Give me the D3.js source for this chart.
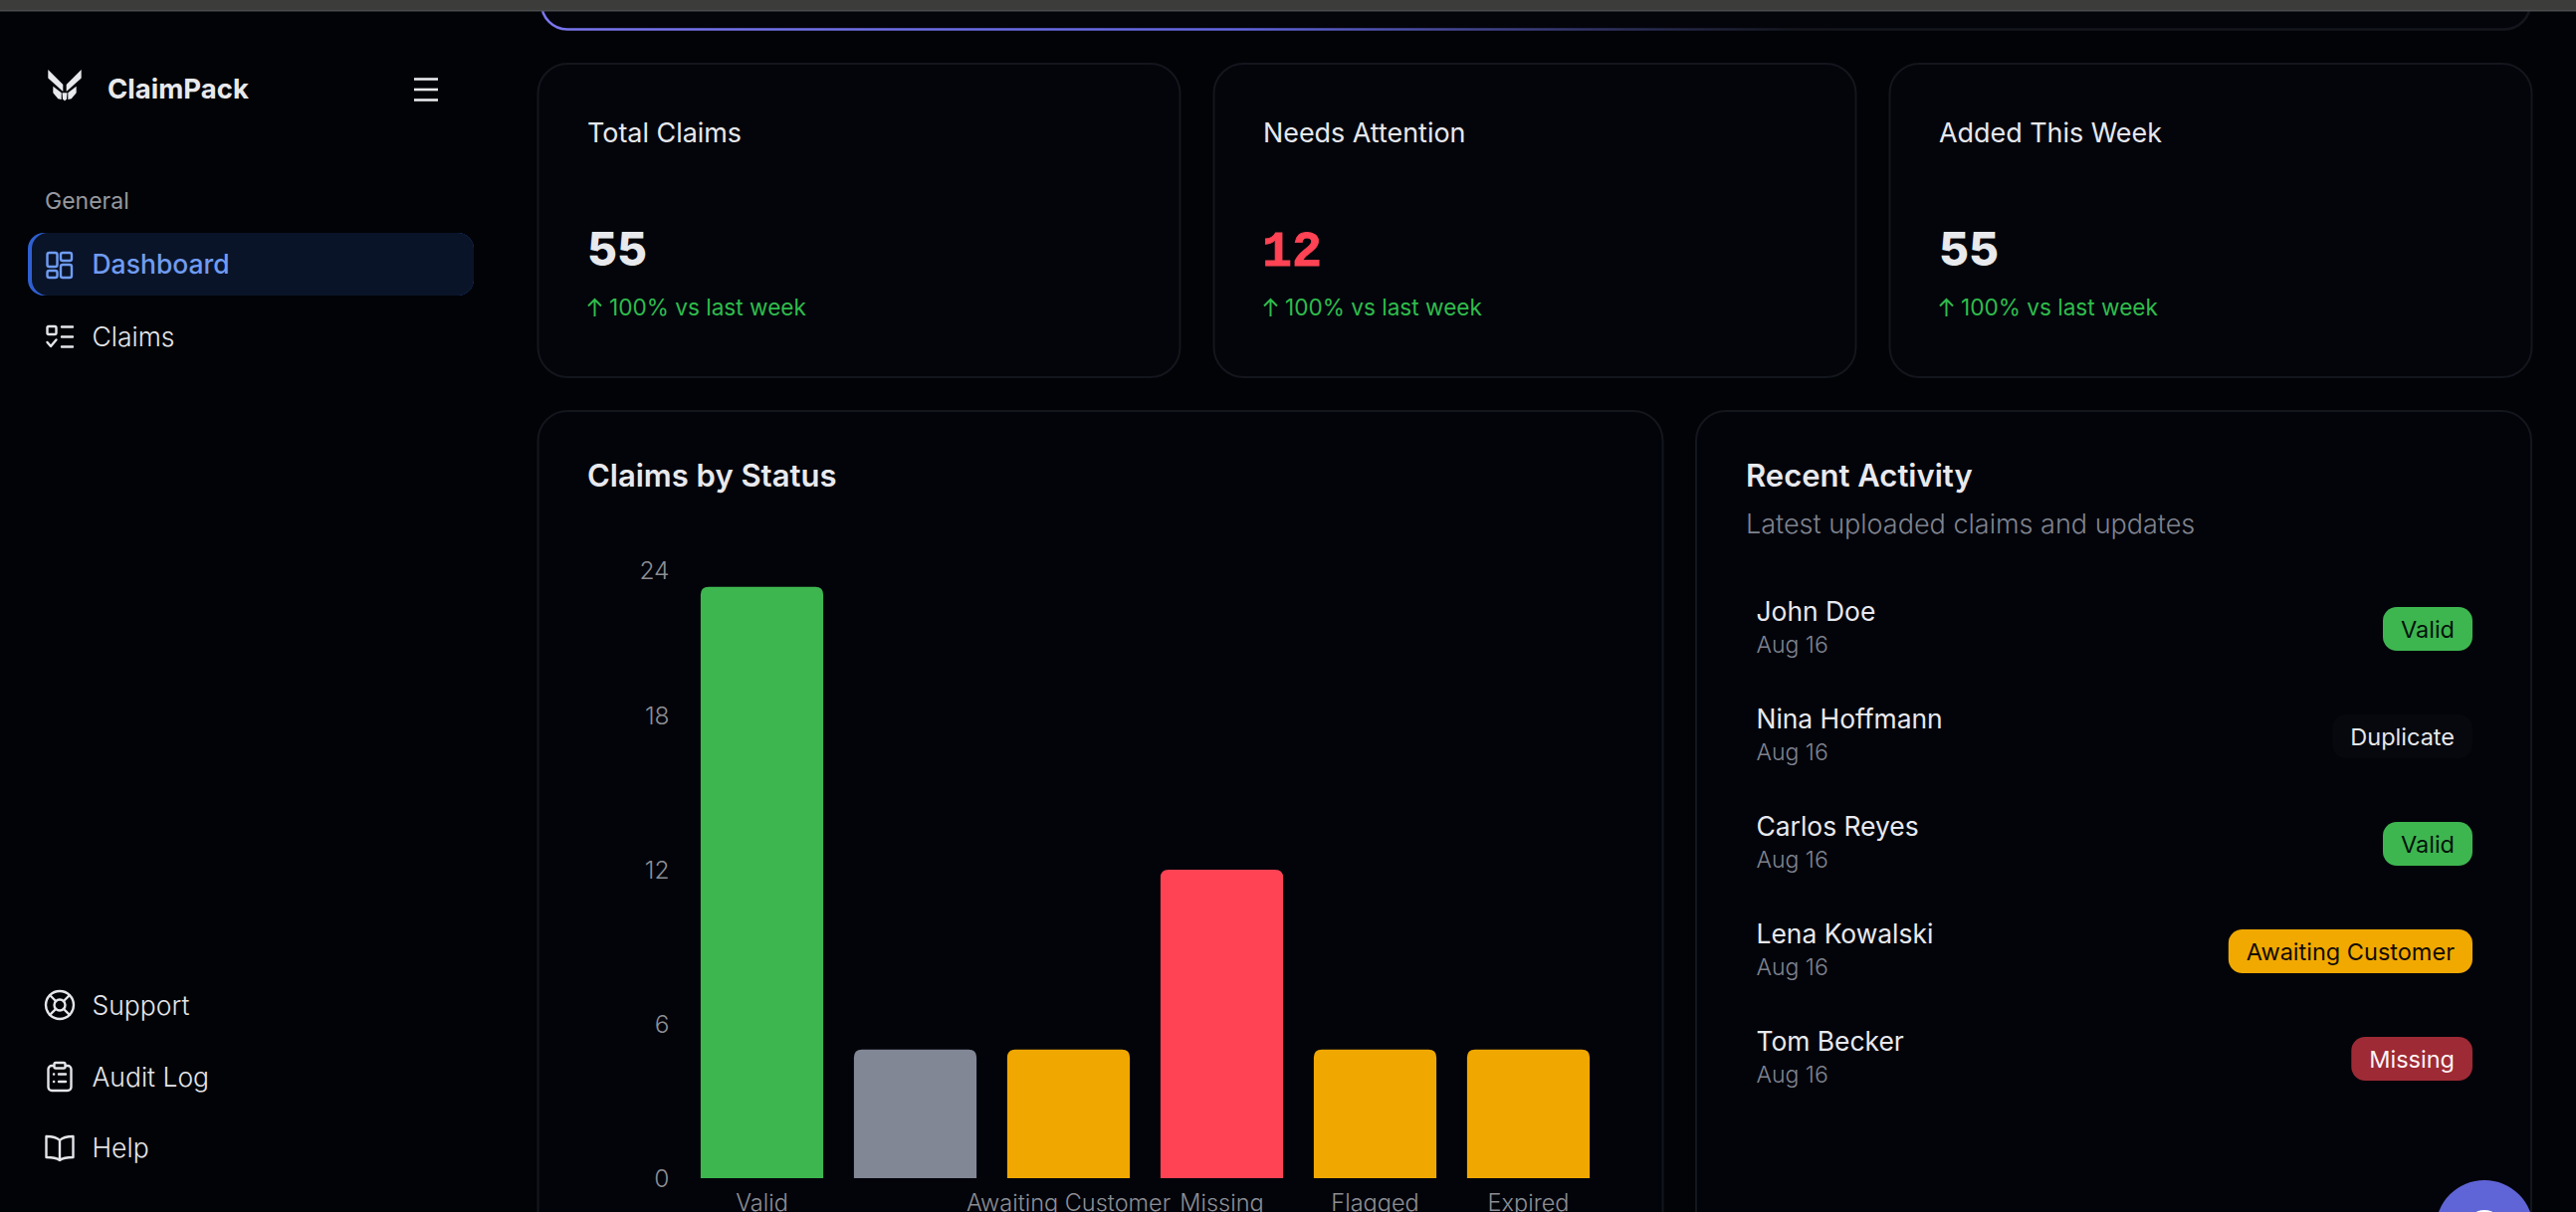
<!DOCTYPE html>
<html>
<head>
<meta charset="utf-8">
<title>ClaimPack</title>
<script src="https://cdn.jsdelivr.net/npm/d3@7"></script>
<style>
html,body{margin:0;padding:0;background:#020307;overflow:hidden}
svg{display:block}
text{font-family:Inter,"Noto Sans",sans-serif}
</style>
</head>
<body>
<svg id="page" width="2588" height="1218" viewBox="0 0 2588 1218"></svg>
<script>
// ---------- data ----------
const categories   = ["Valid","Duplicate","Awaiting Customer","Missing","Flagged","Expired"];
const statusCounts = [23,5,5,12,5,5];
const barColors    = ["#3eb650","#828796","#f0a800","#ff4354","#f0a800","#f0a800"];
const yTickValues  = [0,6,12,18,24];
const hiddenXLabels = ["Duplicate"];

const statTitles = ["Total Claims","Needs Attention","Added This Week"];
const statValues = ["55","12","55"];
const statTrends = ["100% vs last week","100% vs last week","100% vs last week"];

const activityNames  = ["John Doe","Nina Hoffmann","Carlos Reyes","Lena Kowalski","Tom Becker"];
const activityDates  = ["Aug 16","Aug 16","Aug 16","Aug 16","Aug 16"];
const activityStatus = ["Valid","Duplicate","Valid","Awaiting Customer","Missing"];
const badgeStyles = {
  "Valid":["#3eb650","#04130a"],
  "Duplicate":["#07080d","#e4e6ea"],
  "Awaiting Customer":["#f1a900","#120c00"],
  "Missing":["#9e2a35","#fdf3f4"]
};

// ---------- helpers ----------
const svg = d3.select("#page");
const defs = svg.append("defs");
function label(parent,x,y,str,size,weight,fill,anchor,spacing){
  return parent.append("text").attr("x",x).attr("y",y).text(str)
    .attr("font-size",size).attr("font-weight",weight).attr("fill",fill)
    .attr("text-anchor",anchor||"start").attr("letter-spacing",spacing||0);
}
function panel(x,y,w,h,r,fill,stroke){
  return svg.append("rect").attr("x",x).attr("y",y).attr("width",w).attr("height",h)
    .attr("rx",r).attr("fill",fill).attr("stroke",stroke||"#14161d").attr("stroke-width",2);
}

// ---------- top banner & window strip ----------
const bannerGrad = defs.append("linearGradient").attr("id","bannerGrad")
  .attr("gradientUnits","userSpaceOnUse").attr("x1",543).attr("x2",2543).attr("y1",0).attr("y2",0);
bannerGrad.append("stop").attr("offset","0").attr("stop-color","#7a76ee");
bannerGrad.append("stop").attr("offset","0.35").attr("stop-color","#6366e0");
bannerGrad.append("stop").attr("offset","0.63").attr("stop-color","#14161d");
bannerGrad.append("stop").attr("offset","1").attr("stop-color","#14161d");
svg.append("rect").attr("x",544).attr("y",-60).attr("width",1998).attr("height",89.5).attr("rx",26)
  .attr("fill","#04050b").attr("stroke","url(#bannerGrad)").attr("stroke-width",2.5);
svg.append("rect").attr("x",0).attr("y",0).attr("width",2588).attr("height",10).attr("fill","#3c3c3b");
svg.append("rect").attr("x",0).attr("y",10).attr("width",2588).attr("height",1.5).attr("fill","#4a4d4d");

// ---------- sidebar ----------
const side = svg.append("g");
const logo = side.append("g").attr("fill","#e8e9ec");
const wing = g => {
  g.append("path").attr("d","M48.3 70 L63.3 85 L63.3 92 L48.3 78.5 Z");
  g.append("path").attr("d","M53.3 86.7 L61.7 93.3 L61.7 100 L58.3 99.3 L53.3 93.3 Z");
};
wing(logo.append("g"));
wing(logo.append("g").attr("transform","translate(130,0) scale(-1,1)"));
logo.append("path").attr("d","M62.5 93.3 L67.5 93.3 L67 99.3 L65 101.5 L63 99.3 Z");
label(side,108,99,"ClaimPack",27.5,650,"#e8e9ec");
side.append("g").attr("stroke","#e8e9ec").attr("stroke-width",2.6)
  .selectAll("line").data(d3.range(3)).join("line")
  .attr("x1",416).attr("x2",440).attr("y1",d=>79.5+d*10.5).attr("y2",d=>79.5+d*10.5);
label(side,45,210,"General",23,400,"#96989d");

side.append("rect").attr("x",28).attr("y",234).attr("width",448).attr("height",63).attr("rx",16).attr("fill","#2f60d2");
side.append("rect").attr("x",32).attr("y",234).attr("width",444).attr("height",63).attr("rx",16).attr("fill","#0a1428");
label(side,92.5,275,"Dashboard",26.5,450,"#6f9cf2");
label(side,92.5,348,"Claims",26.5,350,"#e4e6ea");
label(side,92.5,1020,"Support",26.5,350,"#e4e6ea");
label(side,92.5,1092,"Audit Log",26.5,350,"#e4e6ea");
label(side,92.5,1163,"Help",26.5,350,"#e4e6ea");

const dash = side.append("g").attr("fill","none").attr("stroke","#6f9cf2").attr("stroke-width",2.4);
[[47.5,254,10,14],[61,254,11,8],[47.5,272,10,7],[61,266,11,13]].forEach(r=>
  dash.append("rect").attr("x",r[0]).attr("y",r[1]).attr("width",r[2]).attr("height",r[3]).attr("rx",2));
const ic = side.append("g").attr("fill","none").attr("stroke","#e4e6ea").attr("stroke-width",2.4).attr("stroke-linecap","round").attr("stroke-linejoin","round");
ic.append("rect").attr("x",47.5).attr("y",328).attr("width",9).attr("height",8).attr("rx",1.5);
ic.append("path").attr("d","M62 328.5H73 M62 338.5H73 M62 348.5H73 M47.5 344 L51 348 L56.5 341.5");
// support
ic.append("circle").attr("cx",60).attr("cy",1010).attr("r",14);
ic.append("circle").attr("cx",60).attr("cy",1010).attr("r",5.5);
ic.append("path").attr("d","M50 1000 L56 1006 M70 1000 L64 1006 M50 1020 L56 1014 M70 1020 L64 1014");
// audit log
ic.append("rect").attr("x",48.5).attr("y",1071).attr("width",23).attr("height",25).attr("rx",3.5);
ic.append("rect").attr("x",54.5).attr("y",1068).attr("width",11).attr("height",5.5).attr("rx",1.5).attr("fill","#020307");
ic.append("path").attr("d","M54 1079.5h.2 M59 1079.5h7 M54 1087h.2 M59 1087h7");
// help (open book)
ic.append("path").attr("d","M60 1146 C56 1142 51 1142 46.5 1142 L46.5 1163 C51 1163 56 1163 60 1166 C64 1163 69 1163 73.5 1163 L73.5 1142 C69 1142 64 1142 60 1146 Z M60 1146 V1166");

// ---------- stat cards ----------
const cardX = [540.5,1219.5,1898.5];
statTitles.forEach((t,i)=>{
  panel(cardX[i],64,645,315,30,"#04050b");
  const tx = Math.floor(cardX[i])+50;
  label(svg,tx,143,t,26.9,400,"#e6e8ee");
  if(t==="Needs Attention"){
    svg.append("text").attr("x",tx-1).attr("y",267).text(statValues[i])
      .attr("font-size",50).attr("font-weight",700).attr("fill","#ff4354")
      .attr("stroke","#ff4354").attr("stroke-width",0.8)
      .style("font-family","'Liberation Mono',monospace");
  } else {
    label(svg,tx,267,statValues[i],46,800,"#e8e9ec");
  }
  svg.append("path").attr("fill","none").attr("stroke","#2fbc4b").attr("stroke-width",2)
    .attr("d",`M${tx+7.5} 318 V301 M${tx+1} 307.5 L${tx+7.5} 301 L${tx+14} 307.5`);
  label(svg,tx+22,317,statTrends[i],22.6,400,"#2fbc4b");
});

// ---------- chart panel ----------
panel(540.5,413,1130,900,30,"#03040a");
label(svg,590,489,"Claims by Status",31,600,"#e8e9ee");

const plot = {left:688.5,right:1612.5,top:564,bottom:1184};
const x = d3.scaleBand().domain(categories).range([plot.left,plot.right]).paddingInner(0.2).paddingOuter(0.1);
const y = d3.scaleLinear().domain([0,24]).range([plot.bottom,plot.top]);
const barRadius = 8;

svg.append("g").selectAll("path").data(categories).join("path")
  .attr("fill",(d,i)=>barColors[i])
  .attr("d",(d,i)=>{
    const l=x(d), r=l+x.bandwidth(), t=y(statusCounts[i]), b=y(0), q=barRadius;
    return `M${l} ${b}V${t+q}Q${l} ${t} ${l+q} ${t}H${r-q}Q${r} ${t} ${r} ${t+q}V${b}Z`;
  });

const yAxis = svg.append("g").attr("transform",`translate(${plot.left-16},0)`)
  .call(d3.axisLeft(y).tickValues(yTickValues).tickSize(0).tickPadding(0));
yAxis.select(".domain").remove();
yAxis.selectAll("text").attr("font-size",24.5).attr("font-weight",350).attr("fill","#8c8e94")
  .style("font-family","Inter").attr("dy",".35em")
  // the topmost label is held inside the plot area, as in the reference
  .attr("y",d=>d===d3.max(yTickValues)?9:0);

const xAxis = svg.append("g").attr("transform",`translate(0,${plot.bottom})`)
  .call(d3.axisBottom(x).tickSize(0).tickPadding(0)
    .tickFormat(d=>hiddenXLabels.includes(d)?"":d));
xAxis.select(".domain").remove();
xAxis.selectAll("text").attr("font-size",23.5).attr("font-weight",350).attr("fill","#8c8e94")
  .style("font-family","Inter").attr("dy",0).attr("y",33);

// ---------- activity panel ----------
panel(1704,413,839,900,30,"#03040a");
label(svg,1754,489,"Recent Activity",31,600,"#e8e9ee");
label(svg,1754,536,"Latest uploaded claims and updates",27,350,"#7f838f");

const rowY = d3.scalePoint().domain(d3.range(activityNames.length)).range([632,632+108*4]);
activityNames.forEach((n,i)=>{
  const c = rowY(i);
  label(svg,1764.5,c-8,n,26.4,400,"#e8e9ee");
  label(svg,1764.5,c+24,activityDates[i],23,350,"#7f838f");
  const s = activityStatus[i], st = badgeStyles[s];
  const g = svg.append("g");
  const bg = g.append("rect");
  const tx = g.append("text").attr("x",2466).attr("y",c+8.5).attr("text-anchor","end")
    .attr("font-size",23.5).attr("font-weight",400).attr("fill",st[1]).text(s);
  const w = tx.node().getComputedTextLength()+36;
  bg.attr("x",2484-w).attr("y",c-22).attr("width",w).attr("height",44).attr("rx",14).attr("fill",st[0]);
});

// ---------- help button ----------
svg.append("circle").attr("cx",2496).attr("cy",1235).attr("r",49).attr("fill","#5f64d6");
svg.append("circle").attr("cx",2496).attr("cy",1234).attr("r",18).attr("fill","#ffffff");
</script>
</body>
</html>
